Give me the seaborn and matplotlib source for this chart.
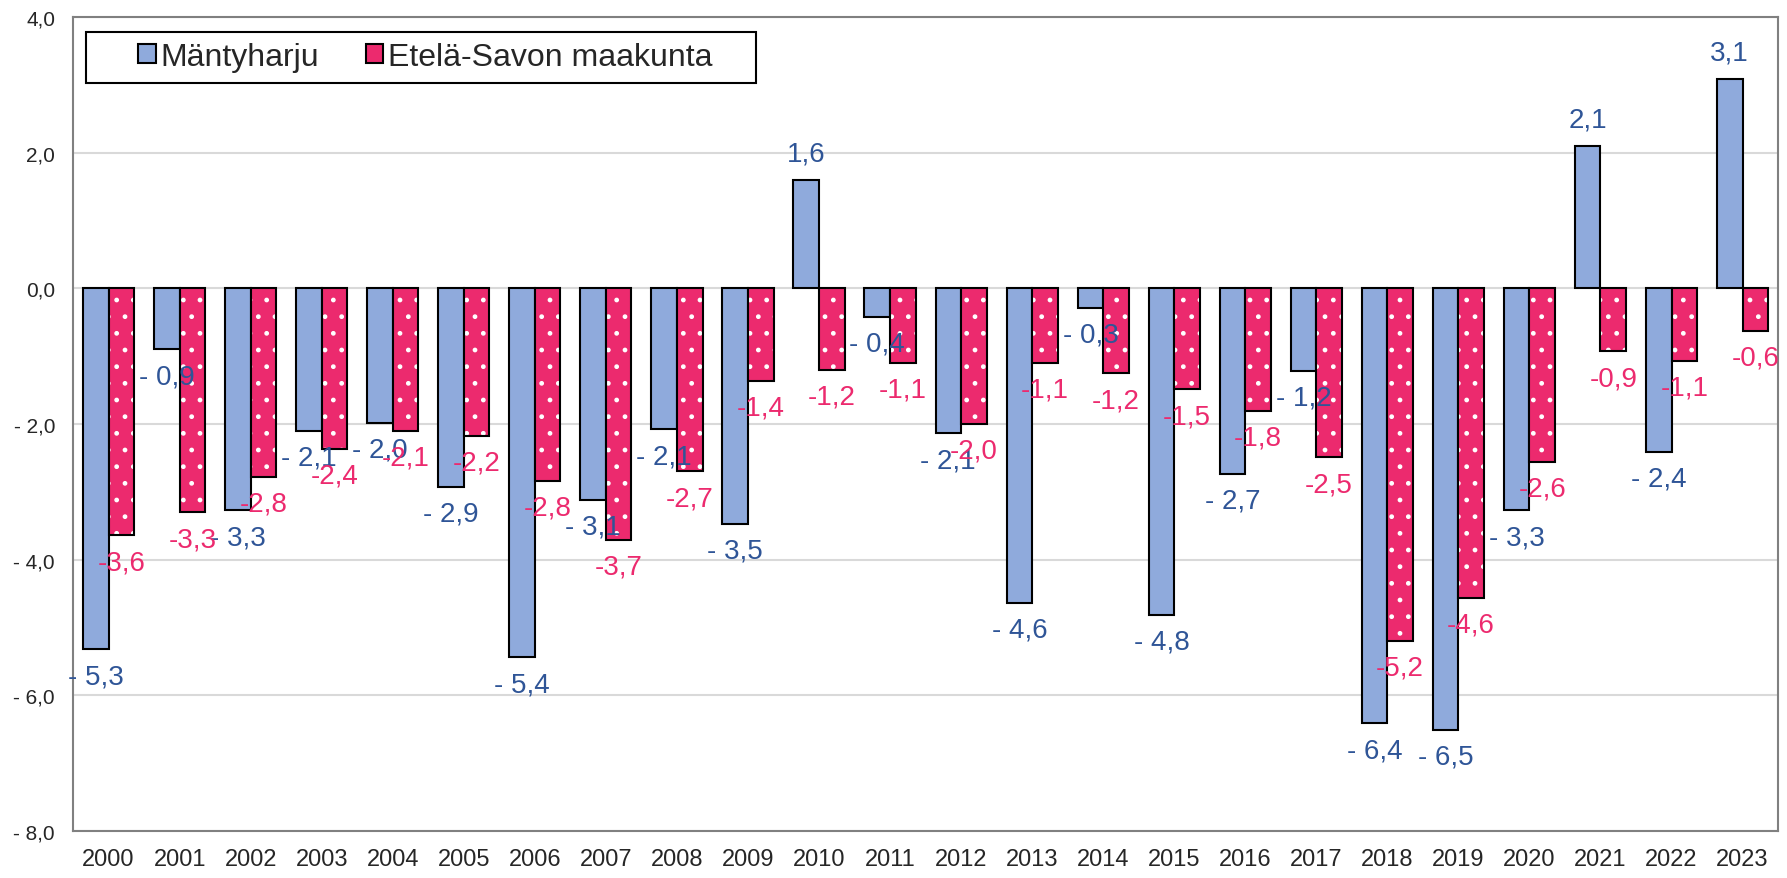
import numpy as np
import pandas as pd
import seaborn as sns
import matplotlib.pyplot as plt
from matplotlib.patches import Patch, Rectangle

sns.set_theme(style='white')
plt.rcParams['font.family'] = ['Liberation Sans', 'DejaVu Sans']
plt.rcParams['hatch.linewidth'] = 1.0

# data
years = [str(y) for y in range(2000, 2024)]
mantyharju = [-5.32, -0.90, -3.27, -2.10, -1.98, -2.93, -5.44, -3.12, -2.08, -3.47,
              1.59, -0.42, -2.14, -4.64, -0.29, -4.81, -2.73, -1.22, -6.41, -6.51,
              -3.27, 2.10, -2.41, 3.08]
etela_savo = [-3.64, -3.30, -2.78, -2.37, -2.10, -2.17, -2.84, -3.71, -2.70, -1.36,
              -1.20, -1.10, -2.00, -1.10, -1.25, -1.49, -1.81, -2.49, -5.20, -4.56,
              -2.56, -0.93, -1.07, -0.63]
series = ['Mäntyharju', 'Etelä-Savon maakunta']
yticks = [-8, -6, -4, -2, 0, 2, 4]

blue = '#8FAADC'
pink = '#EC2A6E'
blue_txt = '#2F5597'
pink_txt = '#EC2A6E'

df = pd.DataFrame({
    'Vuosi': years * 2,
    'Arvo': mantyharju + etela_savo,
    'Alue': [series[0]] * len(years) + [series[1]] * len(years),
})

fig = plt.figure(figsize=(17.87, 8.79), dpi=100)
ax = fig.add_axes([0.0409, 0.0535, 0.9541, 0.926])

sns.barplot(data=df, x='Vuosi', y='Arvo', hue='Alue', order=years, hue_order=series,
            palette=[blue, pink], saturation=1, width=0.72, edgecolor='black',
            linewidth=1.5, legend=False, ax=ax, zorder=3)

# dotted fill for the pink bars, black outline drawn on top
for p in ax.containers[1]:
    p.set_hatch('.')
    p.set_edgecolor('white')
    p.set_linewidth(0)
    ax.add_patch(Rectangle(p.get_xy(), p.get_width(), p.get_height(), fill=False,
                           edgecolor='black', linewidth=1.5, zorder=4))

def fmt_blue(v):
    s = f'{abs(v):.1f}'.replace('.', ',')
    return '- ' + s if v < 0 else s

def fmt_pink(v):
    return f'{v:.1f}'.replace('.', ',')

for cont, fmt, col in [(ax.containers[0], fmt_blue, blue_txt), (ax.containers[1], fmt_pink, pink_txt)]:
    for p, v in zip(cont, cont.datavalues):
        x = p.get_x() + p.get_width() / 2
        off = 10 if v >= 0 else -10
        ax.annotate(fmt(v), (x, v), xytext=(0, off), textcoords='offset points',
                    ha='center', va='bottom' if v >= 0 else 'top',
                    fontsize=20, color=col, zorder=5)

ax.set_ylim(-8, 4)
ax.set_xlim(-0.5, len(years) - 0.5)
ax.set_yticks(yticks)
ax.set_yticklabels([('- ' if t < 0 else '') + f'{abs(t):.1f}'.replace('.', ',') for t in yticks],
                   fontsize=15)
ax.tick_params(axis='x', labelsize=17, length=0, pad=12)
ax.tick_params(axis='y', length=0, pad=13)
ax.set_xlabel('')
ax.set_ylabel('')
ax.yaxis.grid(True, color='#D9D9D9', linewidth=1.5, zorder=0)
ax.set_axisbelow(True)
for s in ax.spines.values():
    s.set_color('#808080')
    s.set_linewidth(1.5)

# legend: entries without frame, box drawn separately (wider padding on the left)
handles = [Patch(facecolor=blue, edgecolor='black', linewidth=1.5),
           Patch(facecolor=pink, edgecolor='black', linewidth=1.5)]
leg = ax.legend(handles, series, loc='upper left', bbox_to_anchor=(0.0345, 0.9775),
                ncol=2, fontsize=23, frameon=False,
                handlelength=0.55, handleheight=0.55, handletextpad=0.15,
                columnspacing=1.45, borderpad=0.2, borderaxespad=0)
ax.add_patch(Rectangle((0.0076, 0.919), 0.393, 0.0627, transform=ax.transAxes,
                       facecolor='white', edgecolor='black', linewidth=1.5, zorder=6))
leg.set_zorder(7)

plt.savefig('out.png', dpi=100)
